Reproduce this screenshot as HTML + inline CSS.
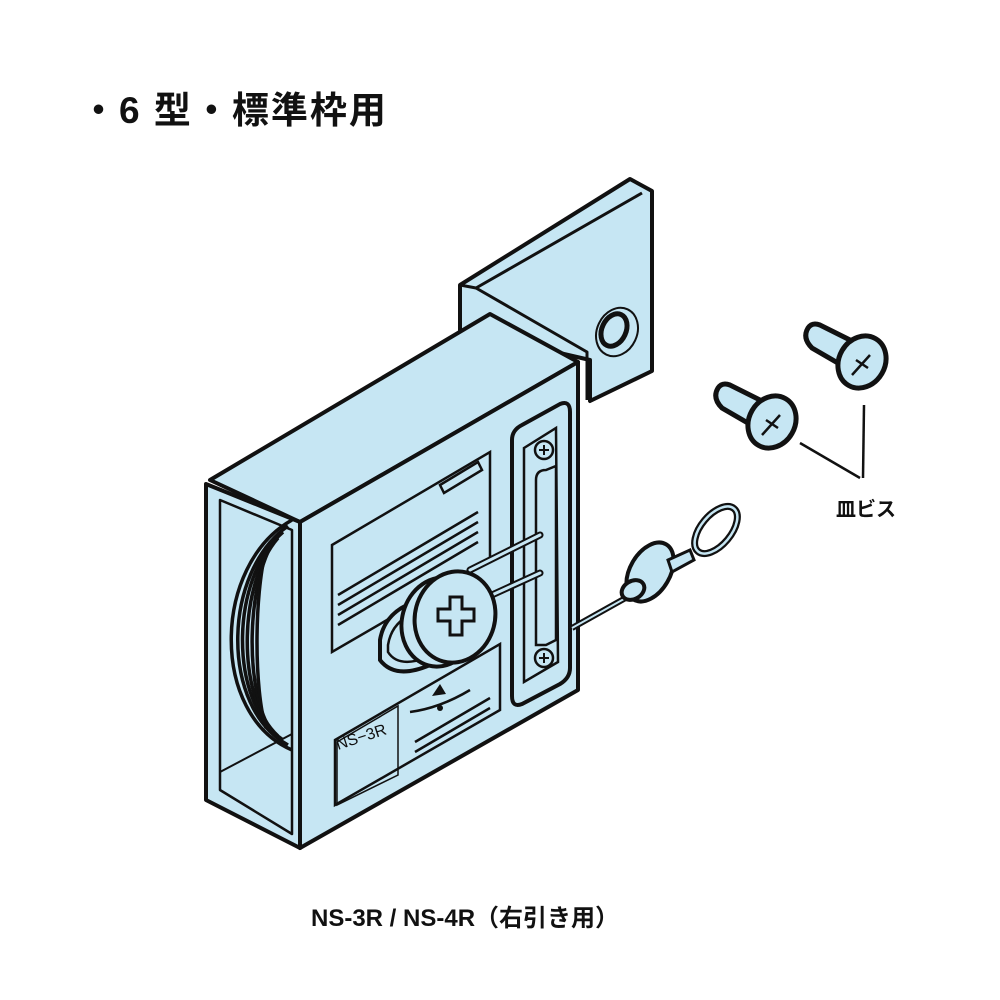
<!DOCTYPE html>
<html><head><meta charset="utf-8"><style>
html,body{margin:0;padding:0;background:#fff;}
body{width:1000px;height:1000px;position:relative;overflow:hidden;font-family:"Liberation Sans","Noto Sans CJK JP",sans-serif;}
.t{position:absolute;font-weight:bold;color:#111;white-space:nowrap;}
</style></head><body>
<div class="t" style="left:80px;top:80px;font-size:37px;letter-spacing:2px;">・6 型・標準枠用</div>
<div class="t" style="left:311px;top:898px;font-size:24px;">NS-3R / NS-4R（右引き用）</div>
<div class="t" style="left:836px;top:493px;font-size:20px;">皿ビス</div>
<svg width="1000" height="1000" style="position:absolute;left:0;top:0" xmlns="http://www.w3.org/2000/svg">
<g stroke="#111" stroke-width="4" stroke-linejoin="round" fill="#c6e6f3">
<polygon points="460,285 630,179 652,191 652,371 590,401 590,360 460,330"/>
<polyline points="642,193 476,288 587,352 587,400" fill="none" stroke-width="3"/>
<line x1="460" y1="285" x2="476" y2="288" stroke-width="3"/>
<ellipse cx="617" cy="332" rx="20" ry="25" transform="rotate(25 617 332)" stroke-width="2"/>
<ellipse cx="614" cy="330" rx="12" ry="17" transform="rotate(25 614 330)" stroke-width="5"/>
<polygon points="210,480 490,314 578,362 300,522"/>
<polygon points="300,522 578,362 578,690 300,848"/>
<polygon points="206,484 300,522 300,848 206,800"/>
<polygon points="220,500 292,530 292,834 220,790" stroke-width="2.5"/>
</g>
<g fill="none" stroke="#111" stroke-width="3.5">
<path d="M292,520 C212,565 210,715 292,750"/>
<path d="M288,526 C222,572 220,708 288,745"/>
<path d="M283,532 C230,578 228,702 283,740"/>
<path d="M278,538 C238,584 236,698 278,736"/>
<path d="M272,544 C246,590 245,694 272,732"/>
<path d="M266,550 C254,596 254,690 266,728"/>
<line x1="220" y1="772" x2="292" y2="734" stroke-width="2"/>
</g>
<g fill="none" stroke="#111" stroke-width="2.5">
<polygon points="332,545 490,452 490,560 332,652"/>
<line x1="338" y1="595" x2="478" y2="512"/>
<line x1="338" y1="605" x2="478" y2="522"/>
<line x1="338" y1="615" x2="478" y2="532"/>
<line x1="338" y1="625" x2="478" y2="542"/>
<path d="M440,485 L478,462 L482,470 L444,493 Z"/>
<polygon points="335,740 500,644 500,710 335,805"/>
<polygon points="337,742 398,706 398,775 337,805" stroke-width="1.5"/>
<line x1="415" y1="742" x2="490" y2="698"/>
<line x1="415" y1="752" x2="490" y2="708"/>
<path d="M410,712 Q440,708 470,690"/>
</g>
<text x="338" y="750" font-family="Liberation Sans,sans-serif" font-size="16" fill="#111" transform="rotate(-18 338 750)">NS−3R</text>
<polygon points="432,696 440,684 446,694" fill="#111"/>
<circle cx="440" cy="708" r="3" fill="#111"/>
<g stroke="#111" stroke-width="4" fill="#c6e6f3">
<path d="M512,440 Q512,430 522,425 L560,404 Q570,400 570,412 L570,668 Q570,678 560,684 L522,704 Q512,708 512,696 Z"/>
<path d="M524,448 L556,428 L558,662 L524,682 Z" stroke-width="2.5"/>
<path d="M536,480 Q536,470 546,470 L556,466 L556,640 L546,645 L536,645 Z" stroke-width="2.5"/>
<circle cx="544" cy="450" r="9" stroke-width="2.5"/>
<circle cx="544" cy="658" r="9" stroke-width="2.5"/>
</g>
<g stroke="#111" stroke-width="2" fill="none">
<path d="M539,450 h10 M544,445 v10 M539,658 h10 M544,653 v10"/>
</g>
<g stroke="#111" stroke-width="7" stroke-linecap="round"><line x1="470" y1="570" x2="540" y2="535"/><line x1="470" y1="605" x2="540" y2="573"/></g>
<g stroke="#c6e6f3" stroke-width="3" stroke-linecap="round"><line x1="470" y1="570" x2="540" y2="535"/><line x1="470" y1="605" x2="540" y2="573"/></g>
<g stroke="#111" stroke-width="4" fill="#c6e6f3">
<path d="M380,640 Q385,610 420,600 L430,665 Q395,680 380,660 Z"/>
<path d="M388,645 Q392,620 418,612 L426,658 Q398,668 388,652 Z" stroke-width="2.5"/>
<ellipse cx="440" cy="622" rx="38" ry="45" transform="rotate(15 440 622)"/>
<ellipse cx="455" cy="617" rx="40" ry="46" transform="rotate(15 455 617)"/>
<path d="M450,597 h12 v12 h12 v12 h-12 v14 h-12 v-14 h-12 v-12 h12 Z" stroke-width="3"/>
</g>
<line x1="572" y1="628" x2="640" y2="590" stroke="#111" stroke-width="6"/>
<line x1="572" y1="628" x2="640" y2="590" stroke="#c6e6f3" stroke-width="2"/>
<g stroke="#111" stroke-width="4" fill="#c6e6f3">
<ellipse cx="650" cy="572" rx="20" ry="32" transform="rotate(30 650 572)"/>
<ellipse cx="633" cy="590" rx="12" ry="9" transform="rotate(-30 633 590)"/>
<path d="M668,560 L690,550 L694,560 L672,572 Z" stroke-width="3"/>
<ellipse cx="716" cy="530" rx="15" ry="28" transform="rotate(40 716 530)" fill="none" stroke-width="7"/>
</g>
<ellipse cx="716" cy="530" rx="15" ry="28" transform="rotate(40 716 530)" fill="none" stroke="#c6e6f3" stroke-width="2.5"/>
<g stroke="#111" stroke-width="5" fill="#c6e6f3">
<path d="M718,388 Q712,398 722,408 L760,430 L770,405 L730,385 Q722,382 718,388 Z"/>
<ellipse cx="772" cy="422" rx="23" ry="27" transform="rotate(30 772 422)"/>
<path d="M808,328 Q802,338 812,348 L850,370 L860,345 L820,325 Q812,322 808,328 Z"/>
<ellipse cx="862" cy="362" rx="23" ry="27" transform="rotate(30 862 362)"/>
</g>
<g stroke="#111" stroke-width="2.5" fill="none">
<path d="M762,435 l18,-20 M766,420 l12,8"/>
<path d="M852,375 l18,-20 M856,360 l12,8"/>
<line x1="800" y1="443" x2="860" y2="478"/>
<line x1="864" y1="405" x2="863" y2="478"/>
</g>
</svg>
</body></html>
